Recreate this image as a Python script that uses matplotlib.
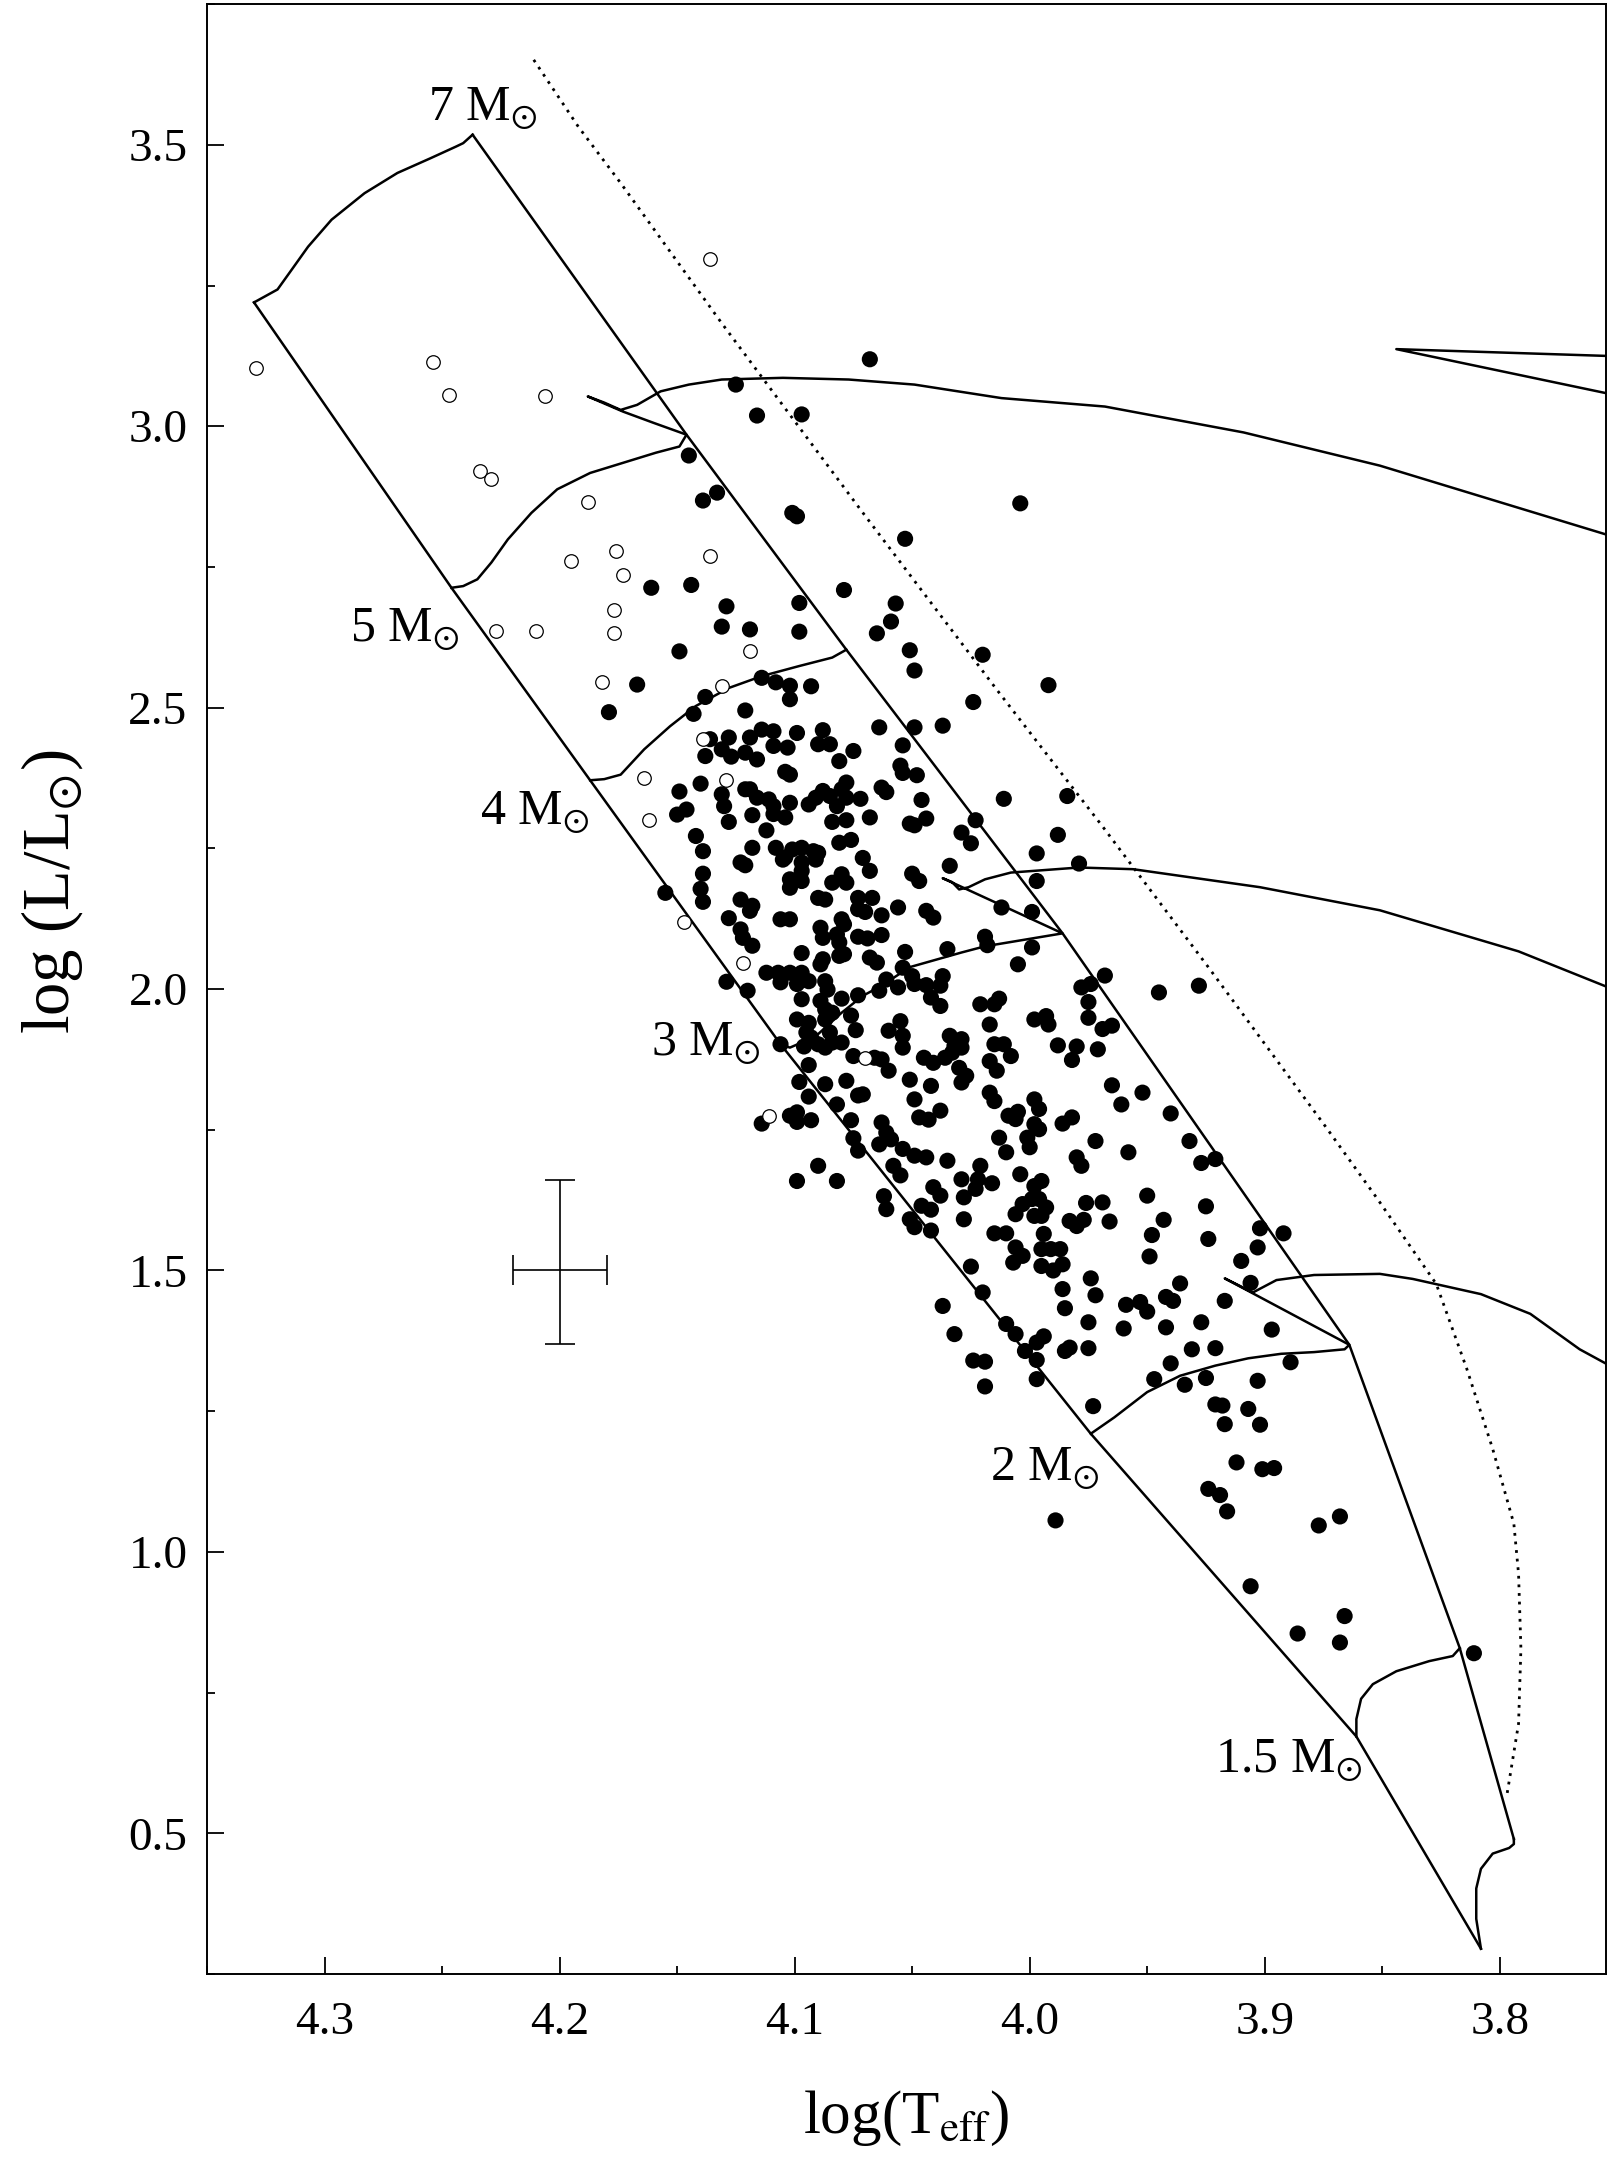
import matplotlib
matplotlib.use("Agg")
import matplotlib.pyplot as plt
from matplotlib.ticker import MultipleLocator

plt.rcParams['font.family'] = ['Liberation Serif', 'DejaVu Serif']
plt.rcParams['mathtext.fontset'] = 'stix'

# -----------------------------
# Stars (filled: sample, open: hotter stars)
# -----------------------------
filled_logt = [
    4.068, 4.125, 4.116, 4.097, 4.145, 4.139, 4.133, 4.101, 4.099, 4.053, 4.161, 4.144, 4.129, 4.079, 4.098,
    4.057, 4.059, 4.065, 4.131, 4.119, 4.098, 4.149, 4.051, 4.049, 4.020, 4.167, 4.114, 4.108, 4.102, 4.093,
    4.004,
    4.179, 4.138, 4.143, 4.121, 4.102, 4.136, 4.128, 4.119, 4.114, 4.109, 4.138, 4.131, 4.127, 4.121, 4.116,
    4.109, 4.103, 4.104, 4.102, 4.140, 4.149, 4.131, 4.130, 4.121, 4.119, 4.116, 4.111, 4.109, 4.109, 4.104,
    4.102, 4.146, 4.150, 4.128, 4.118, 4.112, 4.142, 4.139, 4.118, 4.108, 4.105, 4.123, 4.121, 4.139, 4.102,
    4.140, 4.139, 4.155, 4.123, 4.118, 4.119, 4.128, 4.123, 4.122, 4.118, 4.106, 4.102,
    4.099, 4.088, 4.090, 4.085, 4.075, 4.081, 4.064, 4.049, 4.037, 4.054, 4.055, 4.054, 4.048, 4.078, 4.080,
    4.063, 4.061, 4.046, 4.088, 4.085, 4.091, 4.094, 4.082, 4.078, 4.072, 4.084, 4.078, 4.068, 4.051, 4.049,
    4.044, 4.029, 4.081, 4.076, 4.101, 4.097, 4.092, 4.090, 4.104, 4.097, 4.091, 4.071, 4.068, 4.034, 4.050,
    4.047, 4.097, 4.102, 4.097, 4.084, 4.080, 4.078, 4.090, 4.087, 4.073, 4.067, 4.073, 4.070, 4.063, 4.056,
    4.044, 4.041, 4.080, 4.079, 4.089, 4.088, 4.082, 4.081, 4.073, 4.069, 4.063, 4.097, 4.088, 4.089, 4.081,
    4.079, 4.068, 4.065, 4.053, 4.035,
    4.024, 3.992, 4.011, 3.984, 4.023, 4.025, 3.988, 3.997, 3.979, 3.997, 4.012, 3.999, 4.019, 4.018, 3.999,
    4.005,
    4.129, 4.120, 4.112, 4.107, 4.102, 4.097, 4.106, 4.099, 4.094, 4.087, 4.086, 4.061, 4.064, 4.073, 4.080,
    4.097, 4.089, 4.087, 4.099, 4.094, 4.087, 4.084, 4.076, 4.074, 4.060, 4.095, 4.093, 4.085, 4.106, 4.096,
    4.090, 4.087, 4.084, 4.080, 4.075, 4.066, 4.063, 4.060, 4.094, 4.098, 4.087, 4.078, 4.094, 4.073, 4.071,
    4.082, 4.102, 4.099, 4.099, 4.093, 4.114, 4.076, 4.075, 4.073, 4.063, 4.061, 4.064, 4.090, 4.099, 4.082,
    4.062, 4.061,
    4.054, 4.050, 4.056, 4.049, 4.044, 4.037, 4.038, 4.042, 4.038, 4.021, 4.015, 4.013, 3.998, 3.993, 3.992,
    4.017, 4.055, 4.054, 4.054, 4.034, 4.029, 4.032, 4.029, 4.045, 4.041, 4.036, 4.033, 4.015, 4.011, 4.017,
    4.014, 4.008, 4.030, 4.027, 4.029, 4.051, 4.042, 4.049, 4.017, 4.015, 4.038, 4.047, 4.043, 3.998, 3.996,
    4.009, 4.005, 4.006, 3.998, 3.996, 4.001, 4.000, 4.013, 4.010, 4.059, 4.054, 4.049, 4.044, 4.035, 4.058,
    4.055, 4.021, 4.022, 4.023, 4.016, 4.029, 4.028, 4.041, 4.038, 4.004, 3.998, 3.995, 4.003, 4.006, 3.999,
    3.996, 3.998, 3.995, 3.993, 4.046, 4.042, 4.051, 4.049, 4.042, 4.028, 4.015, 4.010, 4.006, 3.994,
    3.968, 3.978, 3.974, 3.945, 3.928, 3.975, 3.975, 3.969, 3.965, 3.988, 3.980, 3.982, 3.971, 3.965, 3.952,
    3.961, 3.940, 3.986, 3.982, 3.972, 3.958, 3.932, 3.927, 3.921, 3.980, 3.978, 3.976, 3.969, 3.950, 3.925,
    3.983, 3.980, 3.977, 3.966, 3.943, 3.948, 3.924, 3.902, 3.892, 3.903,
    4.025, 4.020, 4.037, 4.032, 4.003, 4.007, 3.995, 3.991, 3.987, 3.995, 3.990, 3.986, 3.986, 3.985, 3.974,
    3.972, 3.975, 3.949, 3.959, 3.953, 3.950, 3.960, 3.942, 3.939, 3.936, 3.942, 3.927, 3.917, 3.910, 3.906,
    3.897, 4.010, 4.006, 4.002, 3.997, 3.994, 3.997, 3.985, 3.983, 3.975, 4.024, 4.019, 4.019, 3.997, 3.973,
    3.931, 3.921, 3.940, 3.947, 3.934, 3.925, 3.903, 3.889, 3.921, 3.918, 3.907, 3.917, 3.902, 3.912, 3.901,
    3.896, 3.924, 3.919, 3.916, 3.989, 3.877, 3.868,
    3.906, 3.886, 3.866, 3.868, 3.811,
]
filled_logl = [
    3.119, 3.074, 3.019, 3.021, 2.948, 2.868, 2.882, 2.846, 2.840, 2.800, 2.713, 2.718, 2.680, 2.709, 2.686,
    2.685, 2.653, 2.632, 2.644, 2.639, 2.635, 2.600, 2.602, 2.566, 2.594, 2.541, 2.553, 2.545, 2.539, 2.538,
    2.863,
    2.492, 2.519, 2.489, 2.495, 2.515, 2.444, 2.447, 2.447, 2.461, 2.458, 2.414, 2.426, 2.413, 2.420, 2.408,
    2.432, 2.429, 2.386, 2.381, 2.365, 2.351, 2.346, 2.325, 2.355, 2.355, 2.340, 2.337, 2.325, 2.311, 2.305,
    2.331, 2.319, 2.310, 2.297, 2.309, 2.282, 2.272, 2.245, 2.251, 2.251, 2.230, 2.225, 2.220, 2.205, 2.195,
    2.178, 2.155, 2.171, 2.159, 2.148, 2.139, 2.126, 2.106, 2.091, 2.077, 2.124, 2.124,
    2.455, 2.460, 2.435, 2.435, 2.423, 2.405, 2.465, 2.465, 2.468, 2.433, 2.397, 2.384, 2.380, 2.367, 2.355,
    2.358, 2.350, 2.336, 2.352, 2.343, 2.340, 2.328, 2.325, 2.340, 2.338, 2.297, 2.300, 2.305, 2.294, 2.291,
    2.303, 2.278, 2.260, 2.265, 2.248, 2.251, 2.245, 2.242, 2.234, 2.225, 2.230, 2.233, 2.210, 2.219, 2.205,
    2.192, 2.210, 2.180, 2.192, 2.189, 2.204, 2.189, 2.162, 2.159, 2.162, 2.162, 2.142, 2.137, 2.131, 2.145,
    2.139, 2.127, 2.124, 2.115, 2.109, 2.091, 2.097, 2.083, 2.093, 2.090, 2.096, 2.064, 2.053, 2.044, 2.059,
    2.062, 2.056, 2.047, 2.066, 2.071,
    2.510, 2.540, 2.338, 2.343, 2.300, 2.259, 2.274, 2.241, 2.223, 2.192, 2.145, 2.137, 2.093, 2.078, 2.074,
    2.044,
    2.013, 1.997, 2.029, 2.029, 2.029, 2.029, 2.012, 2.009, 2.014, 2.014, 1.999, 2.017, 1.997, 1.989, 1.983,
    1.982, 1.979, 1.964, 1.946, 1.940, 1.946, 1.958, 1.953, 1.927, 1.926, 1.923, 1.914, 1.923, 1.902, 1.898,
    1.902, 1.896, 1.905, 1.905, 1.881, 1.878, 1.875, 1.855, 1.865, 1.835, 1.831, 1.837, 1.809, 1.811, 1.813,
    1.795, 1.775, 1.781, 1.764, 1.767, 1.761, 1.767, 1.735, 1.713, 1.763, 1.745, 1.724, 1.686, 1.659, 1.659,
    1.632, 1.609,
    2.038, 2.023, 2.003, 2.009, 2.007, 2.023, 2.006, 1.985, 1.970, 1.973, 1.973, 1.983, 1.946, 1.952, 1.937,
    1.937, 1.943, 1.917, 1.896, 1.917, 1.911, 1.899, 1.896, 1.878, 1.869, 1.878, 1.887, 1.902, 1.902, 1.872,
    1.855, 1.881, 1.860, 1.846, 1.834, 1.839, 1.828, 1.804, 1.816, 1.801, 1.784, 1.772, 1.768, 1.804, 1.787,
    1.775, 1.782, 1.769, 1.760, 1.751, 1.736, 1.719, 1.736, 1.710, 1.733, 1.716, 1.704, 1.701, 1.695, 1.686,
    1.669, 1.686, 1.662, 1.645, 1.655, 1.662, 1.630, 1.648, 1.633, 1.671, 1.650, 1.659, 1.618, 1.600, 1.627,
    1.627, 1.597, 1.597, 1.612, 1.615, 1.608, 1.591, 1.577, 1.571, 1.591, 1.566, 1.566, 1.541, 1.565,
    2.024, 2.003, 2.009, 1.994, 2.006, 1.977, 1.949, 1.929, 1.935, 1.900, 1.898, 1.874, 1.893, 1.829, 1.816,
    1.795, 1.779, 1.761, 1.772, 1.730, 1.710, 1.730, 1.691, 1.698, 1.701, 1.686, 1.620, 1.621, 1.633, 1.614,
    1.588, 1.579, 1.590, 1.587, 1.590, 1.563, 1.556, 1.575, 1.566, 1.541,
    1.507, 1.461, 1.437, 1.387, 1.526, 1.514, 1.538, 1.538, 1.538, 1.508, 1.500, 1.511, 1.467, 1.433, 1.486,
    1.456, 1.408, 1.525, 1.439, 1.444, 1.427, 1.397, 1.453, 1.446, 1.477, 1.399, 1.408, 1.446, 1.517, 1.478,
    1.395, 1.405, 1.387, 1.357, 1.372, 1.383, 1.341, 1.357, 1.363, 1.362, 1.340, 1.338, 1.294, 1.307, 1.259,
    1.360, 1.362, 1.335, 1.307, 1.297, 1.309, 1.304, 1.337, 1.262, 1.260, 1.254, 1.227, 1.226, 1.159, 1.147,
    1.149, 1.112, 1.101, 1.072, 1.056, 1.047, 1.063,
    0.939, 0.855, 0.886, 0.839, 0.820,
]

open_logt = [4.136, 4.329, 4.254, 4.247, 4.206, 4.234, 4.229, 4.188, 4.176, 4.136, 4.195, 4.173, 4.177, 4.177,
             4.227, 4.210, 4.119, 4.182, 4.131, 4.164, 4.162, 4.129, 4.139, 4.147, 4.122, 4.111, 4.070]
open_logl = [3.297, 3.104, 3.115, 3.056, 3.054, 2.920, 2.907, 2.866, 2.778, 2.770, 2.761, 2.735, 2.673, 2.632,
             2.637, 2.637, 2.600, 2.545, 2.539, 2.375, 2.301, 2.371, 2.444, 2.120, 2.046, 1.775, 1.877]

# -----------------------------
# Evolutionary tracks
# -----------------------------
m7_logt = [4.330, 4.320, 4.314, 4.307, 4.297, 4.283, 4.269, 4.255, 4.244, 4.241, 4.237]
m7_logl = [3.220, 3.243, 3.278, 3.319, 3.367, 3.414, 3.450, 3.476, 3.497, 3.503, 3.518]

m5_logt = [4.246, 4.241, 4.235, 4.229, 4.222, 4.212, 4.201, 4.187, 4.173, 4.159, 4.149, 4.146,
           4.160, 4.173, 4.188, 4.181, 4.174, 4.167, 4.157, 4.145, 4.131, 4.105, 4.077, 4.049,
           4.012, 3.968, 3.909, 3.851, 3.792, 3.755]
m5_logl = [2.713, 2.716, 2.728, 2.758, 2.799, 2.846, 2.888, 2.917, 2.935, 2.953, 2.964, 2.985,
           3.006, 3.026, 3.053, 3.042, 3.029, 3.038, 3.062, 3.074, 3.083, 3.086, 3.083, 3.074,
           3.050, 3.035, 2.989, 2.930, 2.855, 2.808]

m4_logt = [4.187, 4.181, 4.174, 4.164, 4.153, 4.142, 4.128, 4.114, 4.098, 4.084, 4.078]
m4_logl = [2.371, 2.373, 2.381, 2.426, 2.467, 2.503, 2.535, 2.556, 2.574, 2.589, 2.603]

m3_logt = [4.106, 4.102, 4.097, 4.090, 4.080, 4.071, 4.063, 4.051, 4.029, 4.019, 3.986,
           4.012, 4.037, 4.033, 4.030, 4.026, 4.019, 4.008, 3.979, 3.956, 3.902, 3.851, 3.792, 3.755]
m3_logl = [1.902, 1.896, 1.905, 1.920, 1.958, 1.988, 2.006, 2.039, 2.065, 2.076, 2.099,
           2.149, 2.197, 2.190, 2.177, 2.181, 2.195, 2.207, 2.216, 2.213, 2.181, 2.140, 2.067, 2.005]

m2_logt = [3.974, 3.964, 3.950, 3.936, 3.921, 3.907, 3.893, 3.879, 3.866, 3.864,
           3.917, 3.905, 3.895, 3.879, 3.851, 3.837, 3.808, 3.787, 3.766, 3.755]
m2_logl = [1.210, 1.239, 1.284, 1.313, 1.331, 1.344, 1.352, 1.355, 1.360, 1.368,
           1.486, 1.461, 1.483, 1.492, 1.494, 1.485, 1.458, 1.423, 1.360, 1.335]

m15_logt = [3.861, 3.861, 3.859, 3.854, 3.844, 3.830, 3.820, 3.817]
m15_logl = [0.672, 0.703, 0.739, 0.765, 0.788, 0.806, 0.815, 0.829]

mlow_logt = [3.808, 3.810, 3.810, 3.808, 3.803, 3.796, 3.794, 3.794]
mlow_logl = [0.295, 0.348, 0.402, 0.437, 0.464, 0.474, 0.481, 0.490]

# red part of the 7 Msun track (upper right corner)
m7_red_logt = [3.755, 3.844, 3.755]
m7_red_logl = [3.125, 3.137, 3.059]

zams_logt = [4.330, 4.246, 4.187, 4.106, 3.974, 3.861, 3.808]
zams_logl = [3.220, 2.713, 2.371, 1.902, 1.210, 0.672, 0.295]

tams_logt = [4.237, 4.146, 4.078, 3.986, 3.864, 3.817, 3.794]
tams_logl = [3.518, 2.985, 2.603, 2.099, 1.368, 0.829, 0.490]

# dotted boundary
edge_logt = [4.211, 4.192, 4.174, 4.131, 4.072, 4.014, 3.969, 3.924, 3.874, 3.852, 3.827,
             3.814, 3.803, 3.794, 3.792, 3.791, 3.792, 3.797]
edge_logl = [3.651, 3.532, 3.432, 3.183, 2.852, 2.532, 2.289, 2.039, 1.755, 1.627, 1.476,
             1.325, 1.183, 1.050, 0.961, 0.828, 0.695, 0.567]

mass_labels = ["7 M$_{\\odot}$", "5 M$_{\\odot}$", "4 M$_{\\odot}$", "3 M$_{\\odot}$",
               "2 M$_{\\odot}$", "1.5 M$_{\\odot}$"]

# -----------------------------
# Figure
# -----------------------------
fig = plt.figure(figsize=(16.11, 21.65), dpi=100)
ax = fig.add_axes([0.1285, 0.0882, 0.8681, 0.9099])

lw = 1.8
for t, l in [(m7_logt, m7_logl), (m5_logt, m5_logl), (m4_logt, m4_logl), (m3_logt, m3_logl),
             (m2_logt, m2_logl), (m15_logt, m15_logl), (mlow_logt, mlow_logl),
             (m7_red_logt, m7_red_logl), (zams_logt, zams_logl), (tams_logt, tams_logl)]:
    ax.plot(t, l, color='black', lw=lw, solid_joinstyle='round')

ax.plot(edge_logt, edge_logl, color='black', lw=2.0, linestyle=(0, (1, 2.1)))

ax.scatter(filled_logt, filled_logl, s=135, c='black', edgecolors='none', zorder=3)
ax.scatter(open_logt, open_logl, s=95, facecolors='white', edgecolors='black',
           linewidths=0.9, zorder=3)

# typical error bar
ax.errorbar([4.20], [1.50], xerr=0.02, yerr=[[0.13], [0.16]], fmt='none',
            ecolor='black', elinewidth=1.2, capsize=11, capthick=1.2)

label_pos = [(4.256, 3.543), (4.289, 2.618), (4.234, 2.292), (4.161, 1.882),
             (4.017, 1.127), (3.921, 0.608)]
for txt, (lx, ly) in zip(mass_labels, label_pos):
    ax.text(lx, ly, txt, fontsize=36, ha='left', va='baseline')

ax.set_xlim(4.35, 3.755)
ax.set_ylim(0.25, 3.75)
ax.xaxis.set_major_locator(MultipleLocator(0.1))
ax.xaxis.set_minor_locator(MultipleLocator(0.05))
ax.yaxis.set_major_locator(MultipleLocator(0.5))
ax.yaxis.set_minor_locator(MultipleLocator(0.25))
ax.tick_params(which='both', direction='in', top=False, right=False, width=1.3)
ax.tick_params(which='major', length=12, labelsize=34, pad=14)
ax.tick_params(which='minor', length=6)
ax.xaxis.set_tick_params(pad=20)
for sp in ax.spines.values():
    sp.set_linewidth(1.4)

fig.text(0.5625, 0.0148, "log(T$_{\\rm eff}$)", fontsize=44, ha='center', va='baseline')
fig.text(0.032, 0.588, "log (L/L$_{\\odot}$)", fontsize=48, ha='center', va='center',
         rotation=90)

plt.savefig("out.png", dpi=100)
plt.close()
